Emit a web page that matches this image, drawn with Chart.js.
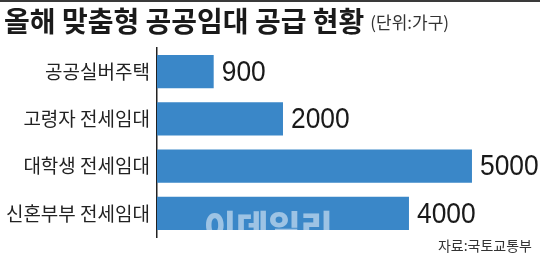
<!DOCTYPE html>
<html>
<head>
<meta charset="utf-8">
<script src="https://cdn.jsdelivr.net/npm/chart.js@4.4.0/dist/chart.umd.min.js"></script>
<style>
  html, body { margin: 0; padding: 0; background: #fff; }
  #wrap { width: 540px; height: 258px; position: relative; }
</style>
</head>
<body>
<div id="wrap"><canvas id="chart"></canvas></div>
<script>
// chart data
const categories = ['공공실버주택', '고령자 전세임대', '대학생 전세임대', '신혼부부 전세임대'];
const households = [900, 2000, 5000, 4000];
const valueLabels = ['900', '2000', '5000', '4000'];

const titleText = '올해 맞춤형 공공임대 공급 현황';
const unitText = '(단위:가구)';
const sourceText = '자료:국토교통부';
const watermarkText = '이데일리';

const KR = "'Noto Sans CJK KR', 'Noto Sans', sans-serif";

// title, source, watermark and the numbers at the bar ends
const decorPlugin = {
    id: 'decor',
    afterDatasetsDraw(chart) {
        const ctx = chart.ctx;
        const meta = chart.getDatasetMeta(0);
        ctx.save();

        // value labels (condensed digits)
        ctx.fillStyle = '#1a1a1a';
        ctx.font = "30px 'Liberation Sans', sans-serif";
        ctx.textAlign = 'left';
        ctx.textBaseline = 'middle';
        meta.data.forEach((bar, i) => {
            ctx.save();
            ctx.translate(bar.x + 8, bar.y + 1);
            ctx.scale(0.88, 1);
            ctx.fillText(valueLabels[i], 0, 0);
            ctx.restore();
        });

        // watermark over the last bar
        const last = meta.data[meta.data.length - 1];
        ctx.fillStyle = 'rgba(255,255,255,0.5)';
        ctx.font = '900 35px ' + KR;
        ctx.fillText(watermarkText, 204, last.y + 14);
        ctx.restore();
    },
    afterDraw(chart) {
        const ctx = chart.ctx;
        ctx.save();
        ctx.fillStyle = '#3a3a3a';
        ctx.fillRect(0, 0, 540, 2);

        ctx.fillStyle = '#1a1a1a';
        ctx.textBaseline = 'middle';
        ctx.textAlign = 'left';
        ctx.font = 'bold 28px ' + KR;
        ctx.fillText(titleText, 4, 21);
        const w = ctx.measureText(titleText).width;

        ctx.fillStyle = '#333';
        ctx.font = '17px ' + KR;
        ctx.fillText(unitText, 4 + w + 6, 23);

        ctx.font = '14px ' + KR;
        ctx.textAlign = 'right';
        ctx.fillText(sourceText, 532, 246);
        ctx.restore();
    }
};

const ctx = document.getElementById('chart').getContext('2d');
const chart = new Chart(ctx, {
    type: 'bar',
    data: {
        labels: categories,
        datasets: [{
            data: households,
            backgroundColor: '#3a87c8',
            borderWidth: 0,
            barPercentage: 0.7,
            categoryPercentage: 1.0,
        }],
    },
    options: {
        indexAxis: 'y',
        responsive: true,
        maintainAspectRatio: false,
        animation: false,
        layout: {
            padding: { top: 48, bottom: 21, left: 0, right: 0 },
        },
        scales: {
            x: {
                display: false,
                min: 0,
                max: 6080,
            },
            y: {
                afterFit: (scale) => { scale.width = 157; },
                grid: { display: false, drawTicks: false },
                border: { display: true, color: '#222', width: 1.5 },
                ticks: {
                    padding: 7,
                    color: '#222',
                    font: { family: KR, size: 19 },
                },
            },
        },
        plugins: {
            legend: { display: false },
            tooltip: { enabled: false },
        },
    },
    plugins: [decorPlugin],
});
</script>
</body>
</html>
